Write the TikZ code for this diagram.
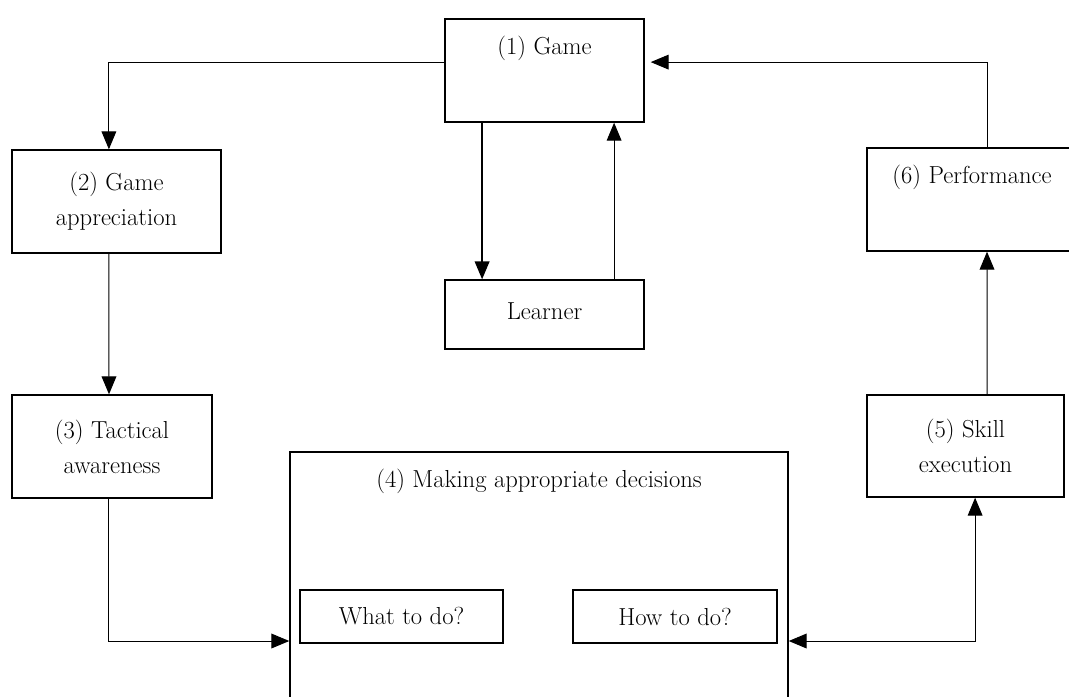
\documentclass[tikz,border=0pt]{standalone}
\usetikzlibrary{arrows.meta,positioning,calc}
\tikzset{
    box/.style={draw,line width=1pt,align=center,inner sep=0pt},
    arrow/.style={-{Triangle[length=4.5mm,width=3.7mm]},line width=0.7pt},
    twoway/.style={{Triangle[length=4.5mm,width=3.7mm]}-{Triangle[length=4.5mm,width=3.7mm]},line width=0.7pt},
    toplabel/.style={anchor=base,yshift=-9mm}
}
\begin{document}
\begin{tikzpicture}[x=0.25mm,y=-0.25mm,every node/.style={font=\fontsize{17.5}{25}\selectfont}]
    \path[use as bounding box,clip] (0,0) rectangle (1069,696);
    % boxes
    \node[box,minimum width=49.75mm,minimum height=25.75mm,label={[toplabel]north:(1) Game}] (game) at (544.5,70.5) {};
    \node[box,minimum width=49.75mm,minimum height=17.25mm,text depth=0.5em] (learner) at (544.5,314.5) {Learner};
    \node[box,minimum width=52.25mm,minimum height=25.75mm] (appr) at (116.5,201.5) {(2) Game\\appreciation};
    \node[box,minimum width=50mm,minimum height=25.75mm] (tact) at (112,446.5) {(3) Tactical\\awareness};
    \node[box,minimum width=124.5mm,minimum height=64.5mm,label={[toplabel]north:(4) Making appropriate decisions}] (dec) at (539,581) {};
    \node[box,minimum width=50.75mm,minimum height=13.25mm] (what) at (401.5,616.5) {What to do?};
    \node[box,minimum width=51mm,minimum height=13.25mm] (how) at (675,616.5) {How to do?};
    \node[box,minimum width=49.25mm,minimum height=25.5mm] (skill) at (965.5,446) {(5) Skill\\execution};
    \node[box,minimum width=52.5mm,minimum height=25.75mm,label={[toplabel]north:(6) Performance}] (perf) at (972,199.5) {};
    \coordinate (lowline) at (0,641);
    % connectors
    \draw[arrow] ([yshift=2.1mm]game.west) -| ([xshift=-1.9mm]appr.north);
    \draw[arrow] ([xshift=-1.9mm]appr.south) -- ([xshift=-0.75mm]tact.north);
    \draw[arrow] ([xshift=-1mm]tact.south) |- (dec.west |- lowline);
    \draw[arrow,line width=1pt] ([xshift=-15.6mm]game.south) -- ([xshift=-15.6mm]learner.north);
    \draw[arrow] ([xshift=17.4mm]learner.north) -- ([xshift=17.4mm]game.south);
    \draw[twoway] (dec.east |- lowline) -| ([xshift=2.4mm]skill.south);
    \draw[arrow] ([xshift=5.4mm]skill.north) -- ([xshift=3.75mm]perf.south);
    \draw[arrow,shorten >=1.5mm] ([xshift=3.75mm]perf.north) |- ([yshift=2.1mm]game.east);
\end{tikzpicture}
\end{document}
